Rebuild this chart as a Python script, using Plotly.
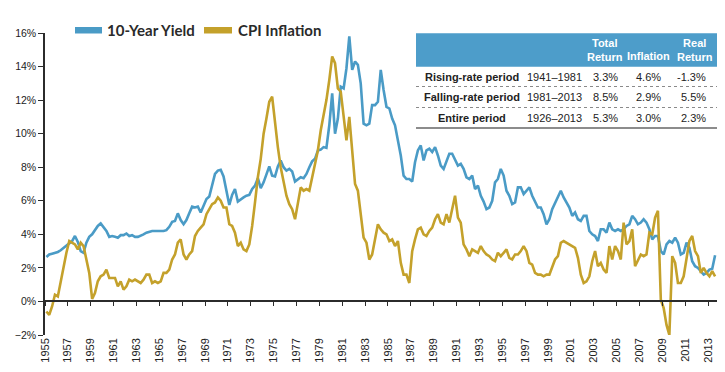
import pandas as pd
import plotly.graph_objects as go

# ---------------- data (quarterly readings, 1955 Q1 -> 2013 Q3) ----------------
yield_10y = [
    2.65, 2.80, 2.85, 2.90,   # 1955
    2.95, 3.05, 3.20, 3.30,   # 1956
    3.45, 3.60, 3.90, 3.55,   # 1957
    3.00, 2.90, 3.50, 3.85,   # 1958
    4.00, 4.25, 4.50, 4.65,   # 1959
    4.45, 4.20, 3.85, 3.90,   # 1960
    3.85, 3.80, 3.95, 3.95,   # 1961
    4.05, 3.90, 3.95, 3.85,   # 1962
    3.85, 3.95, 4.00, 4.10,   # 1963
    4.15, 4.20, 4.20, 4.20,   # 1964
    4.20, 4.20, 4.25, 4.45,   # 1965
    4.75, 4.80, 5.25, 4.85,   # 1966
    4.60, 4.85, 5.25, 5.65,   # 1967
    5.60, 5.65, 5.30, 5.65,   # 1968
    6.10, 6.25, 6.85, 7.60,   # 1969
    7.80, 7.85, 7.45, 6.70,   # 1970
    5.75, 6.35, 6.70, 5.95,   # 1971
    6.05, 6.20, 6.30, 6.35,   # 1972
    6.70, 6.90, 7.35, 6.75,   # 1973
    7.10, 7.60, 8.05, 7.50,   # 1974
    7.45, 8.05, 8.40, 8.00,   # 1975
    7.80, 7.90, 7.75, 7.15,   # 1976
    7.30, 7.40, 7.35, 7.60,   # 1977
    8.00, 8.35, 8.50, 9.00,   # 1978
    9.05, 9.20, 9.15, 10.50,  # 1979
    12.40, 10.00, 10.90, 12.80,  # 1980
    12.70, 13.90, 15.80, 13.80,  # 1981
    14.30, 14.10, 13.00, 10.60,  # 1982
    10.50, 10.60, 11.70, 11.70,  # 1983
    11.90, 13.80, 12.60, 11.60,  # 1984
    11.50, 10.90, 10.50, 9.70,   # 1985
    8.70, 7.50, 7.30, 7.30,   # 1986
    7.15, 8.30, 9.00, 9.30,   # 1987
    8.40, 9.00, 9.10, 8.90,   # 1988
    9.20, 8.70, 8.10, 7.90,   # 1989
    8.40, 8.80, 8.80, 8.40,   # 1990
    8.10, 8.20, 7.90, 7.40,   # 1991
    7.30, 7.50, 6.70, 6.90,   # 1992
    6.30, 5.95, 5.50, 5.60,   # 1993
    6.00, 7.10, 7.30, 7.90,   # 1994
    7.50, 6.60, 6.30, 5.80,   # 1995
    5.90, 6.80, 6.80, 6.40,   # 1996
    6.60, 6.80, 6.30, 5.90,   # 1997
    5.60, 5.60, 5.20, 4.60,   # 1998
    4.90, 5.50, 5.90, 6.20,   # 1999
    6.60, 6.20, 5.90, 5.60,   # 2000
    5.10, 5.30, 4.90, 4.80,   # 2001
    5.10, 5.10, 4.20, 4.00,   # 2002
    3.90, 3.60, 4.30, 4.30,   # 2003
    4.10, 4.70, 4.30, 4.20,   # 2004
    4.30, 4.20, 4.30, 4.50,   # 2005
    4.60, 5.10, 4.90, 4.60,   # 2006
    4.70, 4.90, 4.70, 4.30,   # 2007
    3.70, 3.90, 3.90, 3.00,   # 2008
    2.80, 3.40, 3.60, 3.50,   # 2009
    3.80, 3.50, 2.80, 2.90,   # 2010
    3.50, 3.20, 2.40, 2.10,   # 2011
    2.00, 1.80, 1.60, 1.70,   # 2012
    1.90, 1.95, 2.75,         # 2013
]

cpi_inflation = [
    -0.6, -0.8, -0.3, 0.4,    # 1955
    0.3, 1.2, 2.0, 2.9,       # 1956
    3.6, 3.5, 3.4, 3.1,       # 1957
    3.5, 3.3, 2.4, 1.7,       # 1958
    0.15, 0.5, 1.2, 1.5,      # 1959
    1.6, 1.9, 1.4, 1.4,       # 1960
    1.4, 0.9, 1.2, 0.7,       # 1961
    0.9, 1.3, 1.2, 1.3,       # 1962
    1.2, 1.1, 1.3, 1.6,       # 1963
    1.6, 1.1, 1.2, 1.1,       # 1964
    1.2, 1.7, 1.7, 1.9,       # 1965
    2.5, 2.8, 3.5, 3.7,       # 1966
    2.8, 2.5, 2.8, 3.0,       # 1967
    3.9, 4.2, 4.4, 4.6,       # 1968
    5.2, 5.5, 5.8, 5.9,       # 1969
    6.2, 6.0, 5.6, 5.6,       # 1970
    4.6, 4.5, 4.1, 3.3,       # 1971
    3.5, 3.1, 3.0, 3.4,       # 1972
    4.5, 5.9, 7.4, 8.5,       # 1973
    10.0, 10.9, 11.9, 12.2,   # 1974
    10.5, 9.2, 8.0, 7.2,      # 1975
    6.3, 5.8, 5.5, 4.9,       # 1976
    6.0, 6.8, 6.6, 6.7,       # 1977
    6.6, 7.4, 8.0, 9.0,       # 1978
    10.2, 11.0, 12.0, 13.2,   # 1979
    14.6, 14.2, 12.7, 12.5,   # 1980
    11.0, 9.6, 11.0, 9.0,     # 1981
    7.0, 6.6, 5.0, 3.8,       # 1982
    3.5, 2.5, 2.8, 3.8,       # 1983
    4.6, 4.3, 4.1, 4.0,       # 1984
    3.6, 3.7, 3.3, 3.6,       # 1985
    2.3, 1.6, 1.6, 1.1,       # 1986
    3.0, 3.7, 4.3, 4.4,       # 1987
    4.0, 3.9, 4.2, 4.4,       # 1988
    4.9, 5.2, 4.7, 4.6,       # 1989
    5.2, 4.7, 5.6, 6.3,       # 1990
    5.0, 4.7, 3.4, 3.1,       # 1991
    2.7, 3.1, 3.0, 2.9,       # 1992
    3.3, 3.0, 2.8, 2.7,       # 1993
    2.5, 2.4, 2.9, 2.7,       # 1994
    2.9, 3.1, 2.6, 2.5,       # 1995
    2.8, 2.8, 3.0, 3.3,       # 1996
    3.0, 2.3, 2.2, 1.7,       # 1997
    1.6, 1.6, 1.5, 1.6,       # 1998
    1.6, 2.0, 2.5, 2.7,       # 1999
    3.5, 3.6, 3.5, 3.4,       # 2000
    3.3, 3.2, 2.6, 1.6,       # 2001
    1.1, 1.2, 1.5, 2.4,       # 2002
    3.0, 2.1, 2.3, 1.9,       # 2003
    1.7, 3.3, 2.5, 3.3,       # 2004
    3.0, 2.5, 4.7, 3.4,       # 2005
    3.6, 4.3, 2.1, 2.5,       # 2006
    2.8, 2.7, 2.8, 4.1,       # 2007
    4.0, 5.0, 5.4, 0.1,       # 2008
    -0.4, -1.4, -2.0, 2.7,    # 2009
    2.3, 1.1, 1.1, 1.5,       # 2010
    2.7, 3.6, 3.9, 3.0,       # 2011
    2.7, 1.7, 2.0, 1.7,       # 2012
    1.5, 1.8, 1.5,            # 2013
]

series_names = ["10-Year Yield", "CPI Inflation"]

table_header = ["Total<br>Return", "Inflation", "Real<br>Return"]
table_labels = ["Rising-rate period", "Falling-rate period", "Entire period"]
table_periods = ["1941–1981", "1981–2013", "1926–2013"]
table_total = ["3.3%", "8.5%", "5.3%"]
table_infl = ["4.6%", "2.9%", "3.0%"]
table_real = ["-1.3%", "5.5%", "2.3%"]

# ---------------- styling ----------------
BLUE = "#4a9bc6"
GOLD = "#c4a12b"
HEADER_BLUE = "#4d9dca"
AXIS = "#2b2b2b"
TXT = "#222222"
FONT = "Liberation Sans, Arial, sans-serif"
LEG_FONT = "Lato, Open Sans, sans-serif"

W, H = 725, 372
ML, MR, MT, MB = 45, 8, 33, 37
PW, PH = W - ML - MR, H - MT - MB


def px(x):
    return (x - ML) / PW


def py(y):
    return (H - MB - y) / PH


dates = pd.date_range("1955-01-01", periods=len(yield_10y), freq="QS") + pd.Timedelta(days=45)
x_range = ["1955-01-01", "2013-10-15"]

fig = go.Figure()
fig.add_trace(go.Scatter(x=dates, y=yield_10y, mode="lines", name=series_names[0],
                         line=dict(color=BLUE, width=2.6), showlegend=False))
fig.add_trace(go.Scatter(x=dates, y=cpi_inflation, mode="lines", name=series_names[1],
                         line=dict(color=GOLD, width=2.6), showlegend=False))
# invisible trace so the zero-line axis gets drawn
fig.add_trace(go.Scatter(x=[dates[0]], y=[0], xaxis="x2", mode="markers",
                         marker=dict(opacity=0), hoverinfo="skip", showlegend=False))

fig.update_layout(
    width=W, height=H,
    margin=dict(l=ML, r=MR, t=MT, b=MB, pad=0, autoexpand=False),
    paper_bgcolor="white", plot_bgcolor="white",
    xaxis=dict(type="date", range=x_range, tick0="1955-01-01", dtick="M24",
               tickformat="%Y", tickangle=-90, showline=False, ticks="",
               showgrid=False, zeroline=False, automargin=False,
               tickfont=dict(family=FONT, size=11, color=TXT)),
    xaxis2=dict(type="date", range=x_range, overlaying="x", anchor="free",
                position=2 / 18, tick0="1955-01-01", dtick="M24",
                showline=True, linecolor=AXIS, linewidth=1.5,
                ticks="outside", ticklen=4, tickwidth=1.2, tickcolor=AXIS,
                showticklabels=False, showgrid=False, zeroline=False),
    yaxis=dict(range=[-2, 16], dtick=2, ticksuffix="%", showline=True,
               linecolor=AXIS, linewidth=1.5, ticks="outside", ticklen=5,
               tickwidth=1.2, tickcolor=AXIS, showgrid=False, zeroline=False,
               automargin=False,
               tickfont=dict(family=FONT, size=10.5, color=TXT)),
    showlegend=False,
)

shapes = []
annotations = []

# custom legend
legend_items = [(75, 102, 105, series_names[0], BLUE), (204, 232, 236, series_names[1], GOLD)]
for x0, x1, tx, name, col in legend_items:
    shapes.append(dict(type="rect", xref="paper", yref="paper",
                       x0=px(x0), x1=px(x1), y0=py(33.5), y1=py(27),
                       fillcolor=col, line=dict(width=0)))
    annotations.append(dict(xref="paper", yref="paper", x=px(tx), y=py(30),
                            text="<b>%s</b>" % name, showarrow=False,
                            xanchor="left", yanchor="middle",
                            font=dict(family=LEG_FONT, size=15, color="#2a2a2a")))

# table
TX0, TX1 = 416, 717
shapes.append(dict(type="rect", xref="paper", yref="paper",
                   x0=px(TX0), x1=px(TX1), y0=py(66.7), y1=py(33.3),
                   fillcolor=HEADER_BLUE, line=dict(width=0)))
header_x = [605, 648, 695]
header_y = [50, 56, 50]
for t, hx, hy in zip(table_header, header_x, header_y):
    annotations.append(dict(xref="paper", yref="paper", x=px(hx), y=py(hy),
                            text="<b>%s</b>" % t, showarrow=False,
                            xanchor="center", yanchor="middle",
                            font=dict(family=FONT, size=11, color="white")))

row_y = [77.3, 97.3, 118.3]
for i, ry in enumerate(row_y):
    annotations.append(dict(xref="paper", yref="paper", x=px(472), y=py(ry),
                            text="<b>%s</b>" % table_labels[i], showarrow=False,
                            xanchor="center", yanchor="middle",
                            font=dict(family=FONT, size=11, color=TXT)))
    annotations.append(dict(xref="paper", yref="paper", x=px(554), y=py(ry),
                            text=table_periods[i], showarrow=False,
                            xanchor="center", yanchor="middle",
                            font=dict(family=FONT, size=11, color=TXT)))
    annotations.append(dict(xref="paper", yref="paper", x=px(605), y=py(ry),
                            text=table_total[i], showarrow=False,
                            xanchor="center", yanchor="middle",
                            font=dict(family=FONT, size=11, color=TXT)))
    annotations.append(dict(xref="paper", yref="paper", x=px(648), y=py(ry),
                            text=table_infl[i], showarrow=False,
                            xanchor="center", yanchor="middle",
                            font=dict(family=FONT, size=11, color=TXT)))
    annotations.append(dict(xref="paper", yref="paper", x=px(708), y=py(ry),
                            text=table_real[i], showarrow=False,
                            xanchor="right", yanchor="middle",
                            font=dict(family=FONT, size=11, color=TXT)))

for sy in [86.5, 107.5]:
    shapes.append(dict(type="line", xref="paper", yref="paper",
                       x0=px(TX0), x1=px(TX1), y0=py(sy), y1=py(sy),
                       line=dict(color="#8a8a8a", width=1, dash="dot")))
shapes.append(dict(type="line", xref="paper", yref="paper",
                   x0=px(TX0), x1=px(TX1), y0=py(128), y1=py(128),
                   line=dict(color="#8c8c8c", width=2)))

fig.update_layout(shapes=shapes, annotations=annotations)
fig.write_html("out.html", config={"displayModeBar": False},
               post_script="document.body.style.margin='0';document.body.style.overflow='hidden';")
